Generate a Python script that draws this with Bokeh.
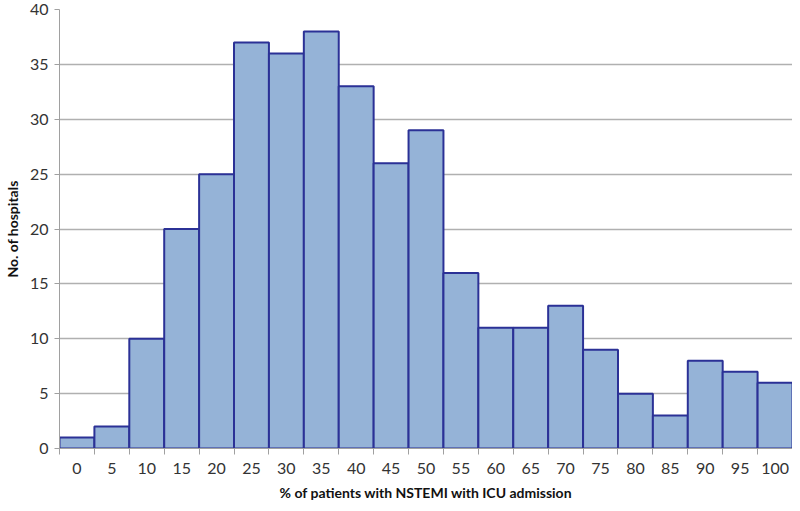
from bokeh.plotting import figure
from bokeh.models import ColumnDataSource, FixedTicker, Range1d
from bokeh.embed import file_html
from bokeh.resources import INLINE

categories = ["0", "5", "10", "15", "20", "25", "30", "35", "40", "45", "50",
              "55", "60", "65", "70", "75", "80", "85", "90", "95", "100"]
counts = [1, 2, 10, 20, 25, 37, 36, 38, 33, 26, 29,
          16, 11, 11, 13, 9, 5, 3, 8, 7, 6]
y_ticks = [0, 5, 10, 15, 20, 25, 30, 35, 40]

n = len(categories)
src = ColumnDataSource(dict(
    left=[i for i in range(n)],
    right=[i + 1 for i in range(n)],
    top=counts,
    bottom=[0] * n,
))

p = figure(width=792, height=503, output_backend="svg", toolbar_location=None,
           x_range=Range1d(0, n), y_range=Range1d(0, 40),
           min_border_left=50, min_border_right=0, min_border_top=9, min_border_bottom=48)
p.outline_line_color = None
p.background_fill_color = "white"
p.border_fill_color = "white"

p.quad(left="left", right="right", top="top", bottom="bottom", source=src,
       fill_color="#95B3D7", line_color="#2B3196", line_width=2)

font = "Lato"
p.xaxis.ticker = FixedTicker(ticks=[i + 0.5 for i in range(n)],
                             minor_ticks=[i for i in range(n + 1)])
p.xaxis.major_label_overrides = {i + 0.5: c for i, c in enumerate(categories)}
p.xaxis.major_tick_line_color = None
p.xaxis.minor_tick_line_color = "#A0A0A0"
p.xaxis.minor_tick_out = 6
p.xaxis.minor_tick_in = 0
p.xaxis.axis_line_color = "#A0A0A0"
p.xaxis.major_label_text_font = font
p.xaxis.major_label_text_font_size = "16px"
p.xaxis.major_label_text_color = "#333333"
p.xaxis.major_label_standoff = 8
p.xaxis.axis_label = "% of patients with NSTEMI with ICU admission"
p.xaxis.axis_label_text_font = font
p.xaxis.axis_label_text_font_size = "14px"
p.xaxis.axis_label_text_font_style = "bold"
p.xaxis.axis_label_text_color = "#111111"
p.xaxis.axis_label_standoff = 7

p.yaxis.ticker = FixedTicker(ticks=y_ticks)
p.yaxis.axis_line_color = "#A0A0A0"
p.yaxis.major_tick_line_color = "#A0A0A0"
p.yaxis.major_tick_out = 5
p.yaxis.major_tick_in = 0
p.yaxis.minor_tick_line_color = None
p.yaxis.major_label_text_font = font
p.yaxis.major_label_text_font_size = "16px"
p.yaxis.major_label_text_color = "#333333"
p.yaxis.major_label_standoff = 6
p.yaxis.axis_label = "No. of hospitals"
p.yaxis.axis_label_text_font = font
p.yaxis.axis_label_text_font_size = "14px"
p.yaxis.axis_label_text_font_style = "bold"
p.yaxis.axis_label_text_color = "#111111"
p.yaxis.axis_label_standoff = 6

p.xgrid.grid_line_color = None
p.ygrid.grid_line_color = "#B0B0B0"
p.ygrid.grid_line_width = 1.5
p.ygrid.level = "underlay"

open("out.html", "w").write(file_html(p, INLINE))
